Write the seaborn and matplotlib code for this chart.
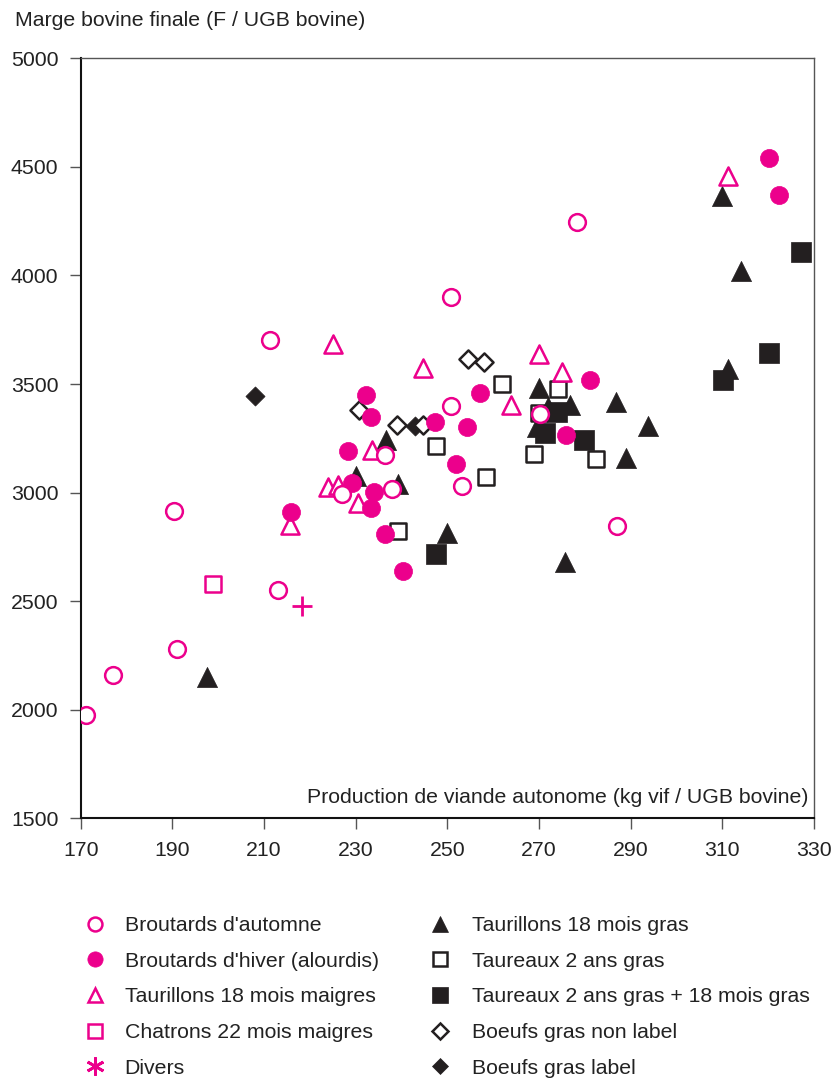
import matplotlib
matplotlib.use("Agg")
import matplotlib.pyplot as plt
from matplotlib.lines import Line2D
import seaborn as sns

MAGENTA = "#EC008C"
BLACK = "#231F20"

# Broutards d'automne (open magenta circles)
automne_x = [171.2, 177.0, 190.4, 191.0, 211.3, 213.1, 227.1, 236.4, 238.0,
             250.8, 250.8, 253.2, 270.2, 278.3, 287.0]
automne_y = [1975, 2160, 2915, 2280, 3705, 2550, 2995, 3175, 3015,
             3900, 3400, 3030, 3360, 4245, 2845]

# Broutards d'hiver (alourdis) (filled magenta circles)
hiver_x = [232.2, 233.3, 228.3, 229.3, 234.0, 233.3, 236.4, 240.4, 247.3,
           252.0, 254.4, 257.1, 281.1, 275.9, 215.9, 320.2, 322.4]
hiver_y = [3450, 3350, 3190, 3045, 3005, 2930, 2810, 2640, 3325,
           3130, 3300, 3460, 3520, 3265, 2910, 4540, 4370]

# Taurillons 18 mois maigres (open magenta triangles)
maigres_x = [225.0, 244.8, 233.5, 224.0, 226.2, 230.6, 215.7, 269.9, 275.1,
             264.0, 311.2]
maigres_y = [3685, 3575, 3195, 3025, 3035, 2950, 2850, 3640, 3555,
             3405, 4460]

# Chatrons 22 mois maigres (open magenta squares)
chatrons_x = [198.8]
chatrons_y = [2580]

# Divers
divers_x = [218.2]
divers_y = [2480]

# Taurillons 18 mois gras (filled black triangles)
gras_x = [197.6, 236.6, 230.0, 239.3, 250.0, 269.9, 276.8, 269.5, 272.0,
          286.7, 293.7, 289.0, 275.7, 310.0, 314.1, 311.2]
gras_y = [2150, 3240, 3075, 3040, 2815, 3480, 3405, 3300, 3395,
          3415, 3305, 3160, 2680, 4365, 4020, 3570]

# Taureaux 2 ans gras (open black squares)
taureaux_x = [247.5, 239.3, 261.9, 274.2, 270.0, 268.9, 282.4, 258.4]
taureaux_y = [3215, 2825, 3500, 3475, 3365, 3180, 3155, 3070]

# Taureaux 2 ans gras + 18 mois gras (filled black squares)
mixte_x = [247.5, 271.3, 274.0, 279.9, 327.1, 320.2, 310.2]
mixte_y = [2715, 3275, 3370, 3240, 4110, 3645, 3520]

# Boeufs gras non label (open diamonds)
nonlabel_x = [230.8, 239.1, 244.8, 254.6, 258.0]
nonlabel_y = [3380, 3310, 3310, 3615, 3600]

# Boeufs gras label (filled diamonds)
label_x = [242.9, 208.1]
label_y = [3305, 3445]

xticks = list(range(170, 331, 20))
yticks = list(range(1500, 5001, 500))

FS = 15.3

sns.set_style("ticks")
plt.rcParams["font.family"] = ["Liberation Sans", "DejaVu Sans"]

fig = plt.figure(figsize=(8.31, 10.8), dpi=100)
ax = fig.add_axes([0.0971, 0.2423, 0.8824, 0.7037])

# (x, y, marker, size, face, edge, lw) -- black groups first, magenta on top
groups = [
    (gras_x, gras_y, "^", 210, BLACK, BLACK, 0.5),
    (mixte_x, mixte_y, "s", 190, BLACK, BLACK, 0.5),
    (taureaux_x, taureaux_y, "s", 135, "white", BLACK, 1.8),
    (label_x, label_y, "D", 95, BLACK, BLACK, 0.5),
    (nonlabel_x, nonlabel_y, "D", 85, "white", BLACK, 1.8),
    (maigres_x, maigres_y, "^", 170, "white", MAGENTA, 1.8),
    (chatrons_x, chatrons_y, "s", 135, "white", MAGENTA, 1.8),
    (hiver_x, hiver_y, "o", 170, MAGENTA, MAGENTA, 0.5),
    (automne_x, automne_y, "o", 145, "white", MAGENTA, 1.8),
]
for gx, gy, m, s, fc, ec, lw in groups:
    sns.scatterplot(x=gx, y=gy, marker=m, s=s, color=ec, facecolor=fc,
                    edgecolor=ec, linewidth=lw, ax=ax, zorder=3)
sns.scatterplot(x=divers_x, y=divers_y, marker="+", s=200, color=MAGENTA,
                linewidth=2, ax=ax, zorder=3)

ax.set_xlim(170, 330)
ax.set_ylim(1500, 5000)
ax.set_xticks(xticks)
ax.set_yticks(yticks)
ax.tick_params(length=8, width=1, color="#555555", pad=8, labelsize=FS,
               labelcolor="#222222")
for side in ["left", "bottom"]:
    ax.spines[side].set_color("#111111")
    ax.spines[side].set_linewidth(1.5)
for side in ["top", "right"]:
    ax.spines[side].set_color("#555555")
    ax.spines[side].set_linewidth(1.0)

ax.text(0.992, 0.028, "Production de viande autonome (kg vif / UGB bovine)",
        transform=ax.transAxes, ha="right", va="center", fontsize=FS,
        color="#222222")
fig.text(15 / 831, 1 - 21 / 1080, "Marge bovine finale (F / UGB bovine)",
         ha="left", va="center", fontsize=FS, color="#222222")


def handle(marker, fc, ec, ms, mew=1.8):
    return Line2D([], [], ls="none", marker=marker, ms=ms, mfc=fc, mec=ec,
                  mew=mew)


left_handles = [
    handle("o", "white", MAGENTA, 10),
    handle("o", MAGENTA, MAGENTA, 11, 0.5),
    handle("^", "white", MAGENTA, 10.5),
    handle("s", "white", MAGENTA, 10),
    handle((6, 2, 0), MAGENTA, MAGENTA, 13, 2),
]
left_labels = ["Broutards d'automne", "Broutards d'hiver (alourdis)",
               "Taurillons 18 mois maigres", "Chatrons 22 mois maigres",
               "Divers"]
right_handles = [
    handle("^", BLACK, BLACK, 11.5, 0.5),
    handle("s", "white", BLACK, 10),
    handle("s", BLACK, BLACK, 11.5, 0.5),
    handle("D", "white", BLACK, 8),
    handle("D", BLACK, BLACK, 8.5, 0.5),
]
right_labels = ["Taurillons 18 mois gras", "Taureaux 2 ans gras",
                "Taureaux 2 ans gras + 18 mois gras", "Boeufs gras non label",
                "Boeufs gras label"]

common = dict(loc="center left", frameon=False, fontsize=FS, borderpad=0,
              borderaxespad=0, handlelength=0.8, labelspacing=0.78,
              labelcolor="#222222")
fig.legend(left_handles, left_labels, bbox_to_anchor=(86.3 / 831, 1 - 997 / 1080),
           handletextpad=1.0, **common)
fig.legend(right_handles, right_labels, bbox_to_anchor=(431.3 / 831, 1 - 997 / 1080),
           handletextpad=1.12, **common)

fig.savefig("out.png", dpi=100)
